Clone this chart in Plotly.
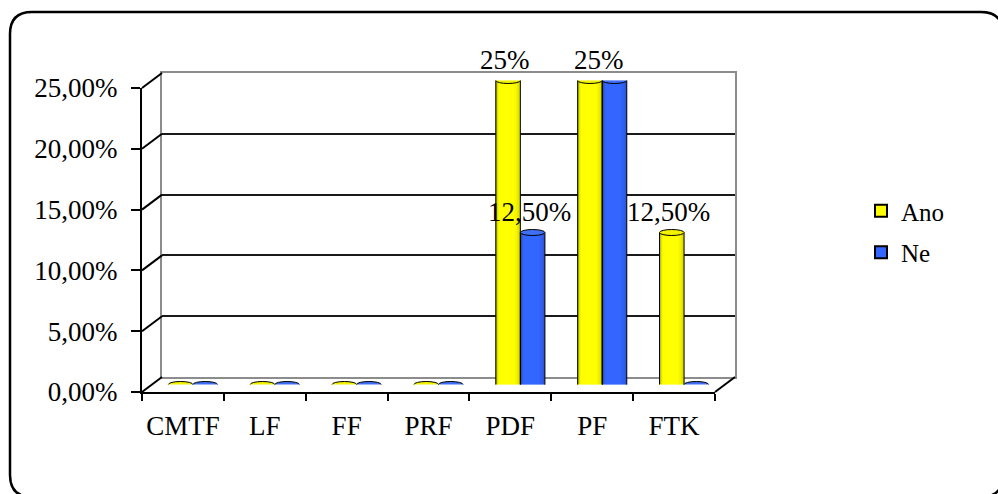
import plotly.graph_objects as go

# ---- data -------------------------------------------------------------
categories = ["CMTF", "LF", "FF", "PRF", "PDF", "PF", "FTK"]
series_names = ["Ano", "Ne"]
ano_values = [0, 0, 0, 0, 25, 25, 12.5]
ne_values = [0, 0, 0, 0, 12.5, 25, 0]
y_ticks = [0, 5, 10, 15, 20, 25]

# ---- styling ----------------------------------------------------------
W, H = 998, 494
FONT = "Liberation Serif"
YELLOW = "#FFFF00"
YELLOW_CAP = "#F2F200"
BLUE = "#3366FF"
BLUE_CAP = "#3F6FF5"
colors = [YELLOW, BLUE]
cap_colors = [YELLOW_CAP, BLUE_CAP]

# pixel layout of the pseudo-3D box: front plane, bar plane, back wall
FRONT_X = (142, 715)
FRONT_Y = (392, 88)          # pixel rows of 0 % and 25 %
DEPTH = (20, -15)            # back wall offset from the front plane


def px_x(p):
    return p / W


def px_y(p):
    return 1 - p / H


def domain(shift_x, shift_y):
    return ([px_x(FRONT_X[0] + shift_x), px_x(FRONT_X[1] + shift_x)],
            [px_y(FRONT_Y[0] + shift_y), px_y(FRONT_Y[1] + shift_y)])


def pct(v, decimals=None):
    if decimals is None:
        decimals = 0 if float(v).is_integer() else 2
    return f"{v:.{decimals}f}".replace(".", ",") + "%"


back_dom = domain(DEPTH[0], DEPTH[1])
mid_dom = domain(DEPTH[0] / 2, DEPTH[1] / 2)
front_dom = domain(0, 0)

y_range = [0, max(y_ticks)]
x_idx = list(range(len(categories)))
BAR_W = 0.3
PX = 1 / ((FRONT_X[1] - FRONT_X[0]) / len(categories))   # category units per px

fig = go.Figure()

# bars (middle plane), side by side within each category
values = [ano_values, ne_values]
for s, (name, vals, col) in enumerate(zip(series_names, values, colors)):
    fig.add_trace(go.Bar(
        x=x_idx, y=vals, name=name, width=BAR_W, offset=-BAR_W + s * BAR_W,
        marker=dict(color=col, line=dict(width=0)),
        xaxis="x2", yaxis="y2", showlegend=False, hoverinfo="skip"))

# legend entries
for name, col in zip(series_names, colors):
    fig.add_trace(go.Bar(
        x=[None], y=[None], name=name, legendgroup=name,
        marker=dict(color=col, line=dict(color="black", width=2)),
        xaxis="x", yaxis="y"))

# invisible trace so the front category axis is laid out
fig.add_trace(go.Scatter(x=categories, y=[0] * len(categories), mode="none",
                         xaxis="x3", yaxis="y3", showlegend=False,
                         hoverinfo="skip"))

shapes = []
for s, (vals, col, capc) in enumerate(zip(values, colors, cap_colors)):
    for i, v in enumerate(vals):
        x0 = i - BAR_W + s * BAR_W
        x1 = x0 + BAR_W
        if v > 0:
            # rounded bottom
            shapes.append(dict(type="circle", xref="x2", yref="y2",
                               x0=x0, x1=x1, ysizemode="pixel", yanchor=0,
                               y0=-3, y1=3, fillcolor=col,
                               line=dict(color="black", width=1), layer="below"))
            # shading to give a cylindrical look
            for k, op in enumerate([0.35, 0.15, 0.06]):
                shapes.append(dict(type="rect", xref="x2", yref="y2",
                                   x0=x0 + k * PX, x1=x0 + (k + 1) * PX,
                                   y0=0, y1=v, fillcolor="black", opacity=op,
                                   line=dict(width=0)))
            for k, op in enumerate([0.2, 0.13, 0.09, 0.06, 0.04, 0.02]):
                shapes.append(dict(type="rect", xref="x2", yref="y2",
                                   x0=x1 - (k + 1) * PX, x1=x1 - k * PX,
                                   y0=0, y1=v, fillcolor="black", opacity=op,
                                   line=dict(width=0)))
            # side outlines
            for xe in (x0, x1):
                shapes.append(dict(type="line", xref="x2", yref="y2",
                                   x0=xe, x1=xe, y0=0, y1=v,
                                   line=dict(color="black", width=1)))
        # top cap (a flat disk for zero values)
        shapes.append(dict(type="circle", xref="x2", yref="y2",
                           x0=x0, x1=x1, ysizemode="pixel", yanchor=v,
                           y0=-3, y1=3, fillcolor=capc,
                           line=dict(color="black", width=1)))

# left side wall diagonals at each tick
for t in y_ticks:
    yp = FRONT_Y[0] + (FRONT_Y[1] - FRONT_Y[0]) * t / y_range[1]
    shapes.append(dict(type="line", xref="paper", yref="paper",
                       x0=px_x(FRONT_X[0]), y0=px_y(yp),
                       x1=px_x(FRONT_X[0] + DEPTH[0]), y1=px_y(yp + DEPTH[1]),
                       line=dict(color="black", width=2)))
# right floor diagonal
shapes.append(dict(type="line", xref="paper", yref="paper",
                   x0=px_x(FRONT_X[1]), y0=px_y(FRONT_Y[0]),
                   x1=px_x(FRONT_X[1] + DEPTH[0]), y1=px_y(FRONT_Y[0] + DEPTH[1]),
                   line=dict(color="black", width=2)))

# rounded outer frame
L, T, R, B, r = 10, 12, 1003, 497, 22
path = (f"M {px_x(L + r)},{px_y(T)} L {px_x(R - r)},{px_y(T)} "
        f"Q {px_x(R)},{px_y(T)} {px_x(R)},{px_y(T + r)} "
        f"L {px_x(R)},{px_y(B - r)} Q {px_x(R)},{px_y(B)} {px_x(R - r)},{px_y(B)} "
        f"L {px_x(L + r)},{px_y(B)} Q {px_x(L)},{px_y(B)} {px_x(L)},{px_y(B - r)} "
        f"L {px_x(L)},{px_y(T + r)} Q {px_x(L)},{px_y(T)} {px_x(L + r)},{px_y(T)} Z")
shapes.append(dict(type="path", xref="paper", yref="paper", path=path,
                   line=dict(color="black", width=2.5)))

# value labels for non-zero bars; equal pairs share a single label
labels = []
for i in x_idx:
    a, n = ano_values[i], ne_values[i]
    if a > 0 and a == n:
        labels.append((i, a))
        continue
    if a > 0:
        labels.append((i - BAR_W / 2, a))
    if n > 0:
        labels.append((i + BAR_W / 2, n))

annotations = [
    dict(x=x, y=v, xref="x2", yref="y2", text=pct(v), showarrow=False,
         yanchor="middle", yshift=21, xshift=-3,
         font=dict(family=FONT, size=27, color="black"))
    for x, v in labels]

axis_font = dict(family=FONT, size=27, color="black")
fig.update_layout(
    width=W, height=H,
    margin=dict(l=0, r=0, t=0, b=0, autoexpand=False),
    paper_bgcolor="white", plot_bgcolor="rgba(0,0,0,0)",
    barmode="overlay",
    shapes=shapes, annotations=annotations,
    # back wall
    xaxis=dict(domain=back_dom[0], range=[-0.5, 6.5], showgrid=False,
               zeroline=False, showticklabels=False, showline=True, mirror=True,
               linecolor="#8c8c8c", linewidth=2, fixedrange=True),
    yaxis=dict(domain=back_dom[1], range=y_range, tickvals=y_ticks,
               showgrid=True, gridcolor="#1a1a1a", gridwidth=2, zeroline=False,
               showticklabels=False, showline=True, mirror=True,
               linecolor="#8c8c8c", linewidth=2, fixedrange=True),
    # bar plane
    xaxis2=dict(domain=mid_dom[0], range=[-0.5, 6.5], visible=False,
                anchor="y2", fixedrange=True),
    yaxis2=dict(domain=mid_dom[1], range=y_range, visible=False,
                anchor="x2", fixedrange=True),
    # front plane with the visible axes
    xaxis3=dict(domain=front_dom[0], anchor="y3", type="category",
                categoryorder="array", categoryarray=categories,
                range=[-0.5, 6.5], showline=True, linecolor="black", linewidth=2,
                ticks="outside", tickson="boundaries", ticklen=7, tickwidth=2,
                tickcolor="black", showgrid=False, zeroline=False, tickangle=0,
                tickfont=axis_font, ticklabelstandoff=9, fixedrange=True,
                automargin=False),
    yaxis3=dict(domain=front_dom[1], anchor="x3", range=y_range,
                tickvals=y_ticks, ticktext=[pct(t, 2) for t in y_ticks],
                showline=True, linecolor="black", linewidth=2,
                ticks="outside", ticklen=9, tickwidth=2, tickcolor="black",
                showgrid=False, zeroline=False, tickfont=axis_font,
                ticklabelstandoff=8, fixedrange=True, automargin=False),
    legend=dict(x=px_x(861), y=px_y(188), xanchor="left", yanchor="top",
                font=dict(family=FONT, size=25, color="black"),
                bgcolor="rgba(0,0,0,0)", tracegroupgap=6,
                traceorder="grouped", itemwidth=30),
)

fig.write_html("out.html")
